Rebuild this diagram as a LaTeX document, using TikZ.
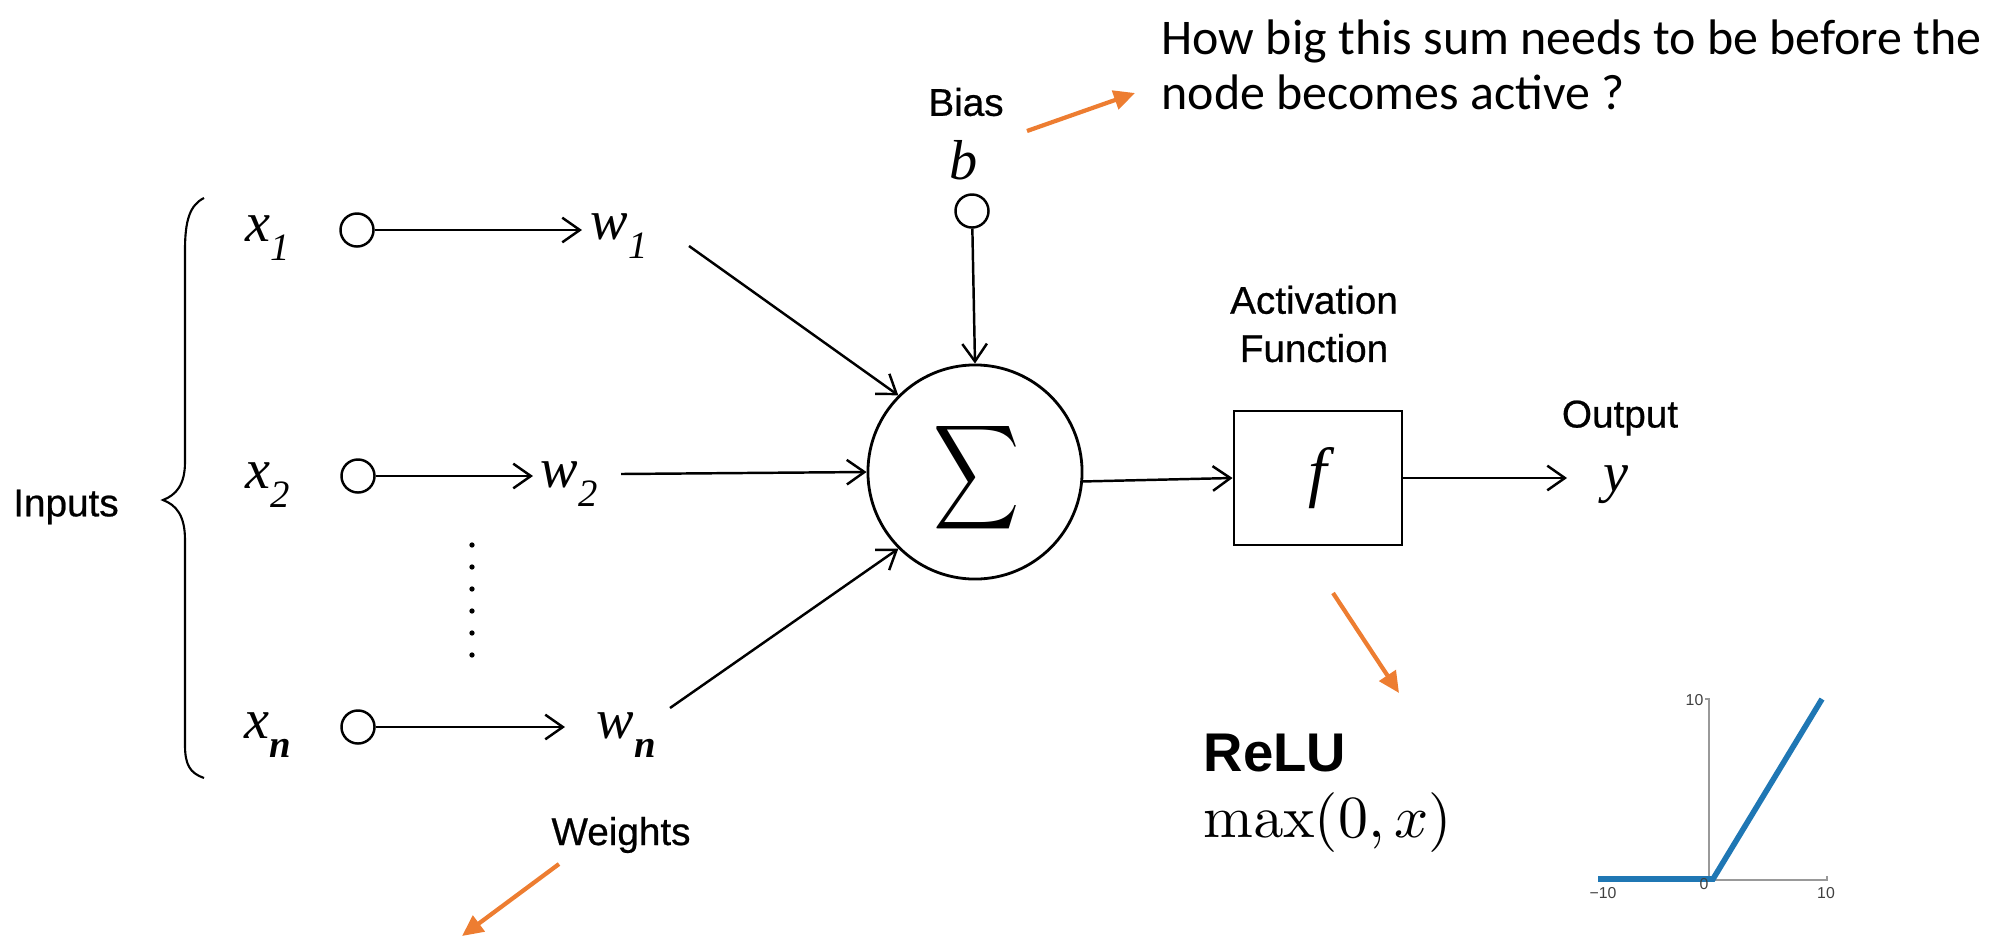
\documentclass[tikz,border=0pt]{standalone}
\usepackage[no-math]{fontspec}
\setmainfont{Liberation Serif}
\newfontfamily\arialf[FakeBold=0.6]{Liberation Sans}
\newfontfamily\arialplain{Liberation Sans}
\newfontfamily\calib{Carlito}
\usetikzlibrary{arrows.meta,shapes.geometric}
\definecolor{orng}{RGB}{237,125,49}
\definecolor{plotblue}{RGB}{31,119,180}
\newcommand\sbs[1]{\raisebox{-0.35em}{\fontsize{11}{11}\selectfont #1}}
\begin{document}
\begin{tikzpicture}[x=0.01cm,y=-0.01cm,
 lbl/.style={font=\arialf\fontsize{11}{13.7}\selectfont, inner sep=0pt},
 mth/.style={font=\fontsize{16}{16}\selectfont\itshape, inner sep=0pt},
 inc/.style={circle,draw,line width=0.7pt,minimum size=0.33cm,inner sep=0pt},
 con/.style={line width=0.7pt},
 arr/.style={con,-{Straight Barb[length=5pt,width=7pt]}},
 oarr/.style={draw=orng,line width=1.2pt,-{Triangle[length=6pt,width=5.5pt]}},
 tick/.style={font=\arialplain\fontsize{4.5}{5}\selectfont, text=black!75, inner sep=0pt}
]
\useasboundingbox (0,0) rectangle (2000,939);

% inputs and brace
\node[lbl] (inputs) at (66,507) {Inputs};
\draw[line width=0.6pt] (204,198) .. controls (190,205) and (185,220) .. (185,250) -- (185,462) .. controls (185,485) and (176,495) .. (163,500) .. controls (176,505) and (185,515) .. (185,540) -- (185,745) .. controls (185,765) and (190,773) .. (204,778);

% rows
\node[mth] (x1) at (268,238) {x\sbs{1}};
\node[inc] (c1) at (357,230) {};
\node[mth,anchor=west] (w1) at (590,236) {w\sbs{1}};
\coordinate (a1) at (582,230);
\draw[arr] (c1) -- (a1);

\node[mth] (x2) at (268,485) {x\sbs{2}};
\node[inc] (c2) at (358,476) {};
\node[mth,anchor=west] (w2) at (540,484) {w\sbs{2}};
\coordinate (a2) at (533,476);
\draw[arr] (c2) -- (a2);

\node[mth] (xn) at (268,735) {x\sbs{\bfseries n}};
\node[inc] (cn) at (358,727) {};
\node[mth,anchor=west] (wn) at (596,735) {w\sbs{\bfseries n}};
\coordinate (an) at (565,727);
\draw[arr] (cn) -- (an);

\foreach \i in {0,...,5} \fill (472,545+22*\i) circle[radius=0.75pt];

% summation
\node[circle,draw,line width=0.8pt,minimum size=2.14cm,inner sep=0pt] (sum) at (975,472) {};
\node[inner sep=0pt] (sig) at (977,478) {\scalebox{1.7}[2.08]{$\displaystyle\sum$}};

% bias
\node[lbl] (bias) at (966,102) {Bias};
\node[mth] (b) at (964,160) {b};
\node[inc] (cb) at (972,211) {};
\draw[arr] (cb) -- (sum.north);

\coordinate (w1o) at (689,246);
\draw[arr] (w1o) -- (sum.135);
\coordinate (w2o) at (621,474);
\draw[arr] (w2o) -- (sum.west);
\coordinate (wno) at (670,708);
\draw[arr] (wno) -- (sum.225);

% activation
\node[draw,line width=0.8pt,minimum width=1.68cm,minimum height=1.34cm,inner sep=0pt,font=\fontsize{19}{19}\selectfont\itshape] (fbox) at (1318,478) {f};
\node[lbl,align=center] (act) at (1314,324) {Activation\\Function};
\draw[arr] (sum.-5) -- (fbox.west);

\node[mth] (y) at (1616,485) {y};
\coordinate (ya) at (1567,478);
\draw[arr] (fbox.east) -- (ya);
\node[lbl] (out) at (1620,418) {Output};

% weights
\node[lbl] (wts) at (621,835) {Weights};
\coordinate (wa1) at (559,864);
\coordinate (wa2) at (462,936);
\draw[oarr] (wa1) -- (wa2);

% bias annotation
\coordinate (ba1) at (1027,131);
\coordinate (ba2) at (1135,93);
\draw[oarr] (ba1) -- (ba2);
\node[anchor=west, font=\calib\fontsize{14.2}{15.6}\selectfont, align=left, inner sep=0pt] (q) at (1161,65) {How big this sum needs to be before the\\node becomes active ?};

% relu
\coordinate (fa1) at (1333,593);
\coordinate (fa2) at (1399,693);
\draw[oarr] (fa1) -- (fa2);
\node[anchor=west,font=\arialplain\bfseries\fontsize{15.5}{16}\selectfont,inner sep=0pt] (relu) at (1203,753) {ReLU};
\node[anchor=west,inner sep=0pt] (maxf) at (1203,823) {\scalebox{1.7}{$\max(0,x)$}};

% plot
\draw[black!40, line width=0.4pt] (1705,699) -- (1709,699) -- (1709,880) -- (1827,880) -- (1827,876);
\draw[black!40, line width=0.4pt] (1598,880) -- (1709,880);
\draw[plotblue, line width=1.6pt] (1598,879) -- (1713,879) -- (1822,699);
\node[tick,anchor=east] (t10y) at (1704,700) {10};
\node[tick] (tm10) at (1603,893) {\char"2212 10};
\node[tick] (t0) at (1704,884) {0};
\node[tick] (t10x) at (1826,893) {10};
\end{tikzpicture}
\end{document}
